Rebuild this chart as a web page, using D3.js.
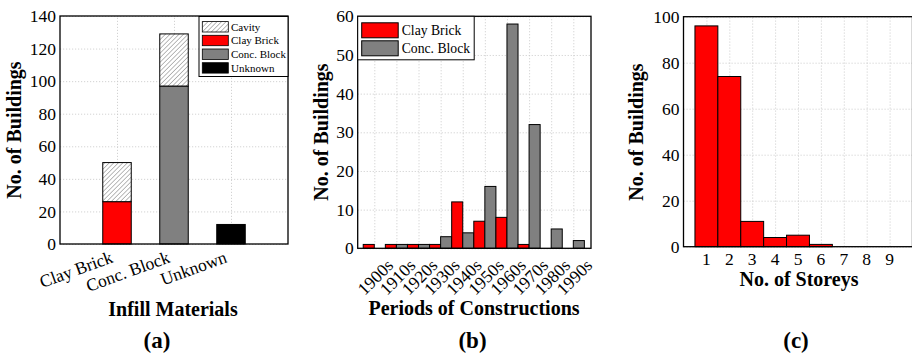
<!DOCTYPE html>
<html lang="en">
<head>
<meta charset="UTF-8">
<title>Building inventory</title>
<script src="https://d3js.org/d3.v7.min.js"></script>
<style>
    body { margin: 0; background: #fff; }
    svg text { font-family: "Liberation Serif", "Times New Roman", serif; fill: #000; }
    .grid line { stroke: #c8c8c8; stroke-width: 0.8; stroke-dasharray: 1.2, 1.8; }
    .grid path { display: none; }
    .tick-lbl { font-size: 17.5px; }
    .title { font-size: 20px; font-weight: bold; }
    .panel { font-size: 23px; font-weight: bold; }
</style>
</head>
<body>
<div id="chart"></div>
<script>
// (a) infill materials
const materials = ["Clay Brick", "Conc. Block", "Unknown"];
const solidCounts = [26, 97, 12];
const cavityCounts = [24, 32, 0];
const legendA = ["Cavity", "Clay Brick", "Conc. Block", "Unknown"];
const yTicksA = [0, 20, 40, 60, 80, 100, 120, 140];

// (b) periods of construction
const periods = ["1900s", "1910s", "1920s", "1930s", "1940s", "1950s", "1960s", "1970s", "1980s", "1990s"];
const clayByPeriod = [1, 1, 1, 1, 12, 7, 8, 1, 0, 0];
const concByPeriod = [0, 1, 1, 3, 4, 16, 58, 32, 5, 2];
const legendB = ["Clay Brick", "Conc. Block"];
const yTicksB = [0, 10, 20, 30, 40, 50, 60];

// (c) storeys
const storeys = [1, 2, 3, 4, 5, 6, 7, 8, 9];
const storeyCounts = [96, 74, 11, 4, 5, 1, 0, 0, 0];
const yTicksC = [0, 20, 40, 60, 80, 100];

const RED = "#ff0000", GREY = "#808080", BLACK = "#000000";

const svg = d3.select("#chart").append("svg")
    .attr("width", 912).attr("height", 355);

// hatch for cavity walls
svg.append("defs").append("pattern")
    .attr("id", "hatch")
    .attr("patternUnits", "userSpaceOnUse")
    .attr("width", 3.2).attr("height", 3.2)
    .attr("patternTransform", "rotate(45)")
    .call(p => {
        p.append("rect").attr("width", 3.2).attr("height", 3.2).attr("fill", "#fff");
        p.append("line").attr("x1", 0).attr("y1", 0).attr("x2", 0).attr("y2", 3.2)
            .attr("stroke", "#777").attr("stroke-width", 1);
    });

// gridlines + y tick labels, shared by the three panels
function frame(x, y, yTicks, xGrid) {
    const [x0, x1] = x.range();
    const [y0, y1] = y.range();
    svg.append("g").attr("class", "grid")
        .attr("transform", `translate(${x0},0)`)
        .call(d3.axisLeft(y).tickValues(yTicks).tickSize(-(x1 - x0)).tickFormat(""));
    svg.append("g").attr("class", "grid")
        .attr("transform", `translate(0,${y0})`)
        .call(d3.axisBottom(x).tickValues(xGrid).tickSize(-(y0 - y1)).tickFormat(""));
    const ax = svg.append("g")
        .attr("transform", `translate(${x0},0)`)
        .call(d3.axisLeft(y).tickValues(yTicks).tickSize(0).tickPadding(4));
    ax.select(".domain").remove();
    ax.selectAll("text").attr("class", "tick-lbl").attr("font-size", null).attr("font-family", null);
}

function border(x, y) {
    const [x0, x1] = x.range();
    const [y0, y1] = y.range();
    svg.append("rect")
        .attr("x", x0).attr("y", y1)
        .attr("width", x1 - x0).attr("height", y0 - y1)
        .attr("fill", "none").attr("stroke", "#000").attr("stroke-width", 1.3);
}

function yTitle(cx, cy, label) {
    svg.append("text").attr("class", "title")
        .attr("transform", `translate(${cx},${cy}) rotate(-90)`)
        .attr("text-anchor", "middle").attr("dy", "0.35em")
        .text(label);
}

function xTitle(cx, by, label) {
    svg.append("text").attr("class", "title")
        .attr("x", cx).attr("y", by).attr("text-anchor", "middle").text(label);
}

function panelTag(cx, label) {
    svg.append("text").attr("class", "panel")
        .attr("x", cx).attr("y", 348).attr("text-anchor", "middle").text(label);
}

// ---------- (a) ----------
{
    const x = d3.scaleLinear().domain([0, 4]).range([60, 288]);
    const y = d3.scaleLinear().domain([0, 140]).range([244, 16]);
    const bw = x(0.5) - x(0);
    const solidFill = [RED, GREY, BLACK];

    frame(x, y, yTicksA, [1, 2, 3]);

    materials.forEach((m, i) => {
        const cx = x(i + 1);
        svg.append("rect")
            .attr("x", cx - bw / 2).attr("y", y(solidCounts[i]))
            .attr("width", bw).attr("height", y(0) - y(solidCounts[i]))
            .attr("fill", solidFill[i]).attr("stroke", "#000").attr("stroke-width", 1);
        if (cavityCounts[i] > 0) {
            const top = solidCounts[i] + cavityCounts[i];
            svg.append("rect")
                .attr("x", cx - bw / 2).attr("y", y(top))
                .attr("width", bw).attr("height", y(solidCounts[i]) - y(top))
                .attr("fill", "url(#hatch)").attr("stroke", "#000").attr("stroke-width", 1);
        }
        svg.append("text").attr("class", "tick-lbl")
            .attr("font-size", "19px")
            .attr("transform", `translate(${cx - 3},262) rotate(-20)`)
            .attr("text-anchor", "end")
            .text(m);
    });

    border(x, y);

    // legend
    const lg = svg.append("g").attr("transform", "translate(199,16.5)");
    lg.append("rect").attr("width", 89).attr("height", 60)
        .attr("fill", "#fff").attr("stroke", "#000").attr("stroke-width", 1);
    const legFill = ["url(#hatch)", RED, GREY, BLACK];
    legendA.forEach((name, i) => {
        const cy = 10.3 + i * 13.7;
        lg.append("rect").attr("x", 3.3).attr("y", cy - 5.2)
            .attr("width", 26).attr("height", 10.4)
            .attr("fill", legFill[i]).attr("stroke", "#000").attr("stroke-width", 0.8);
        lg.append("text").attr("x", 32).attr("y", cy).attr("dy", "0.35em")
            .attr("font-size", "11px").text(name);
    });

    yTitle(14, 130, "No. of Buildings");
    xTitle(173, 316, "Infill Materials");
    panelTag(157, "(a)");
}

// ---------- (b) ----------
{
    const x = d3.scaleLinear().domain([0.25, 10.8]).range([357.7, 591]);
    const y = d3.scaleLinear().domain([0, 60]).range([248.3, 16.3]);
    const bw = x(0.5) - x(0);
    const pos = periods.map((p, i) => i + 1);

    frame(x, y, yTicksB, pos);

    periods.forEach((p, i) => {
        const cx = x(i + 1);
        if (clayByPeriod[i] > 0) {
            svg.append("rect")
                .attr("x", cx - bw).attr("y", y(clayByPeriod[i]))
                .attr("width", bw).attr("height", y(0) - y(clayByPeriod[i]))
                .attr("fill", RED).attr("stroke", "#000").attr("stroke-width", 1);
        }
        if (concByPeriod[i] > 0) {
            svg.append("rect")
                .attr("x", cx).attr("y", y(concByPeriod[i]))
                .attr("width", bw).attr("height", y(0) - y(concByPeriod[i]))
                .attr("fill", GREY).attr("stroke", "#000").attr("stroke-width", 1);
        }
        svg.append("text").attr("class", "tick-lbl")
            .attr("font-size", "16px")
            .attr("transform", `translate(${cx + 1},277) rotate(-45)`)
            .attr("text-anchor", "middle").attr("dy", "0.35em")
            .text(p);
    });

    border(x, y);

    const lg = svg.append("g").attr("transform", "translate(357.7,16.3)");
    lg.append("rect").attr("width", 116.5).attr("height", 43.5)
        .attr("fill", "#fff").attr("stroke", "#000").attr("stroke-width", 1);
    const legFill = [RED, GREY];
    legendB.forEach((name, i) => {
        const cy = 14 + i * 18;
        lg.append("rect").attr("x", 4).attr("y", cy - 7.5)
            .attr("width", 36.5).attr("height", 15)
            .attr("fill", legFill[i]).attr("stroke", "#000").attr("stroke-width", 1);
        lg.append("text").attr("x", 44).attr("y", cy).attr("dy", "0.35em")
            .attr("font-size", "13.7px").text(name);
    });

    yTitle(321, 132, "No. of Buildings");
    xTitle(474, 315, "Periods of Constructions");
    panelTag(472.5, "(b)");
}

// ---------- (c) ----------
{
    const x = d3.scaleLinear().domain([0, 10]).range([683.5, 912.5]);
    const y = d3.scaleLinear().domain([0, 100]).range([246.7, 16.7]);
    const bw = x(1) - x(0);

    frame(x, y, yTicksC, storeys);

    storeys.forEach((s, i) => {
        const cx = x(s);
        if (storeyCounts[i] > 0) {
            svg.append("rect")
                .attr("x", cx - bw / 2).attr("y", y(storeyCounts[i]))
                .attr("width", bw).attr("height", y(0) - y(storeyCounts[i]))
                .attr("fill", RED).attr("stroke", "#000").attr("stroke-width", 1);
        }
        svg.append("text").attr("class", "tick-lbl")
            .attr("x", cx).attr("y", 265).attr("text-anchor", "middle")
            .text(s);
    });

    border(x, y);

    yTitle(636, 132, "No. of Buildings");
    xTitle(799, 286, "No. of Storeys");
    panelTag(796, "(c)");
}
</script>
</body>
</html>
